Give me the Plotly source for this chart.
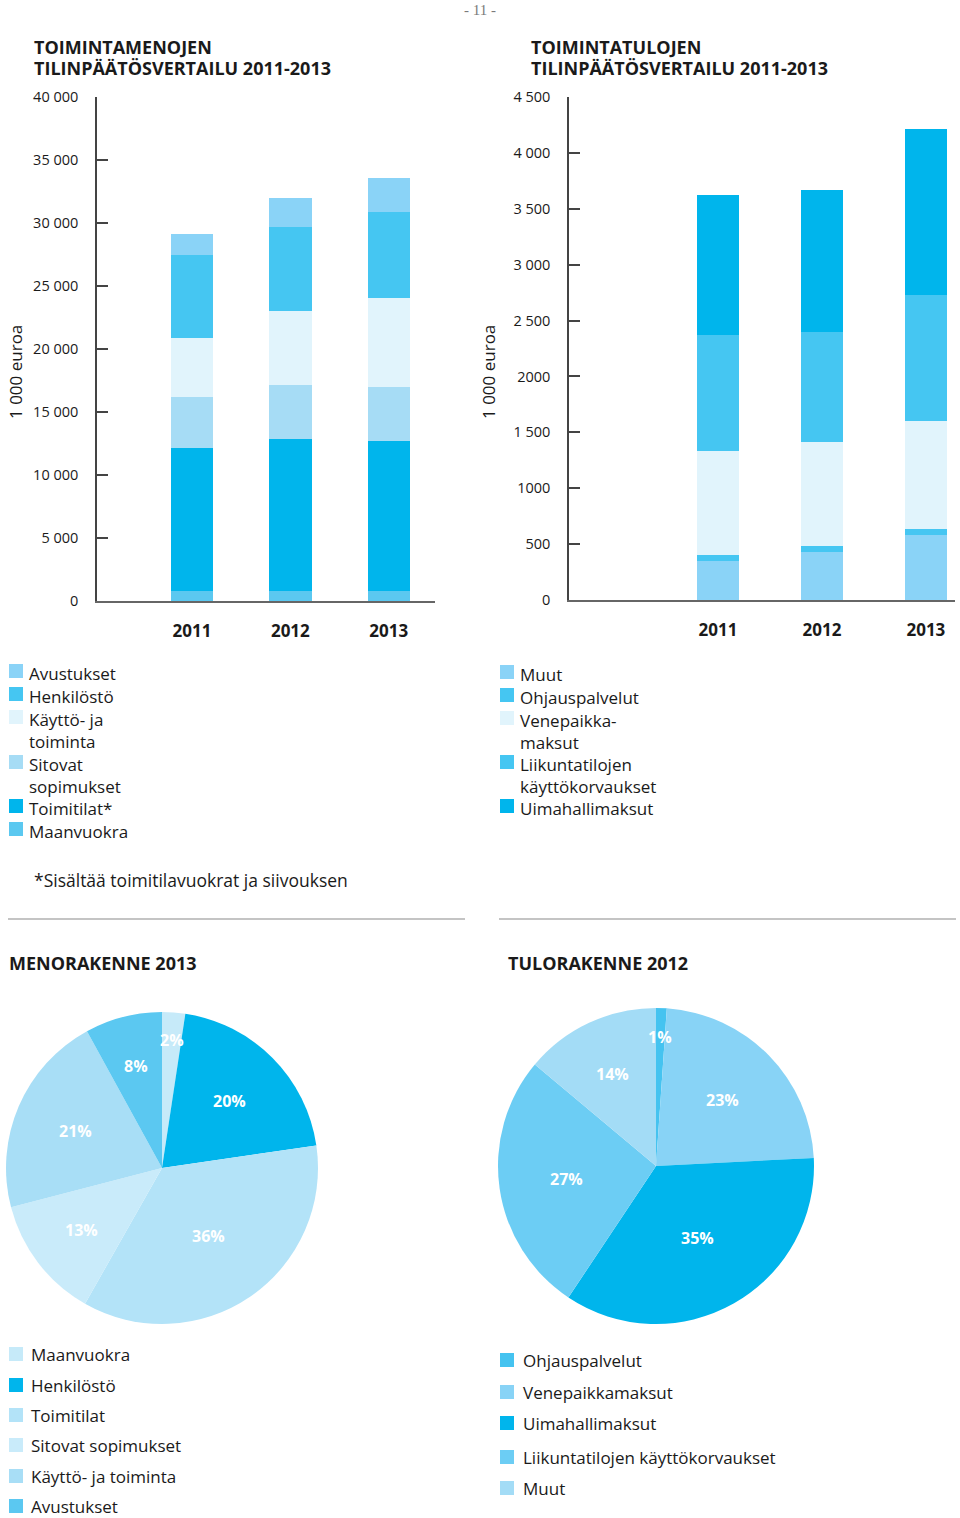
import math
import plotly.graph_objects as go

W, H = 960, 1518

# ---------------- DATA ----------------
years = ["2011", "2012", "2013"]

# Toimintamenot (1 000 euroa)
avustukset = [1646, 2350, 2679]
henkilosto = [6629, 6658, 6810]
kaytto = [4649, 5869, 7070]
sitovat = [4042, 4281, 4271]
toimitilat = [11388, 12040, 11917]
maanvuokra = [761, 797, 802]

# Toimintatulot (1 000 euroa)
muut = [352, 429, 586]
ohjaus = [55, 50, 46]
venepaikka = [925, 939, 973]
liikunta = [1039, 977, 1126]
uimahalli = [1248, 1276, 1481]

left_tickvals = [0, 5000, 10000, 15000, 20000, 25000, 30000, 35000, 40000]
left_ticktext = ["0", "5 000", "10 000", "15 000", "20 000", "25 000", "30 000", "35 000", "40 000"]
right_tickvals = [0, 500, 1000, 1500, 2000, 2500, 3000, 3500, 4000, 4500]
right_ticktext = ["0", "500", "1000", "1 500", "2000", "2 500", "3 000", "3 500", "4 000", "4 500"]

# ---------------- STYLE ----------------
FONT = "Open Sans"
TXT = "#1a1a1a"
C_DARK = "#00b5ec"
C_MED = "#45c6f2"
C_MED2 = "#5bc8f0"
C_LIGHT = "#8ad3f7"
C_PALE = "#a6dcf5"
C_VPALE = "#e1f4fc"


def X(px):
    return px / W


def Y(py):
    return 1 - py / H


def fmt(v):
    return f"{v:,}".replace(",", " ")


fig = go.Figure()

# ---------------- BAR CHARTS ----------------
left_series = [  # bottom to top
    ("Maanvuokra", maanvuokra, C_MED2),
    ("Toimitilat*", toimitilat, C_DARK),
    ("Sitovat sopimukset", sitovat, C_PALE),
    ("Käyttö- ja toiminta", kaytto, C_VPALE),
    ("Henkilöstö", henkilosto, C_MED),
    ("Avustukset", avustukset, C_LIGHT),
]
for name, vals, col in left_series:
    fig.add_trace(go.Bar(x=years, y=vals, name=name, marker=dict(color=col, line=dict(width=0)),
                         width=0.43, xaxis="x", yaxis="y", showlegend=False, hoverinfo="skip"))

right_series = [
    ("Muut", muut, C_LIGHT),
    ("Ohjauspalvelut", ohjaus, C_MED),
    ("Venepaikkamaksut", venepaikka, C_VPALE),
    ("Liikuntatilojen käyttökorvaukset", liikunta, C_MED),
    ("Uimahallimaksut", uimahalli, C_DARK),
]
for name, vals, col in right_series:
    fig.add_trace(go.Bar(x=years, y=vals, name=name, marker=dict(color=col, line=dict(width=0)),
                         width=0.41, xaxis="x2", yaxis="y2", showlegend=False, hoverinfo="skip"))

# ---------------- PIES ----------------
pie_left_labels = ["Maanvuokra", "Henkilöstö", "Toimitilat", "Sitovat sopimukset", "Käyttö- ja toiminta", "Avustukset"]
pie_left_values = [maanvuokra[2], henkilosto[2], toimitilat[2], sitovat[2], kaytto[2], avustukset[2]]
pie_left_colors = ["#c6eaf9", "#00b5ec", "#b3e3f8", "#c9ebfa", "#a8def6", "#5bc8f1"]

pie_right_labels = ["Ohjauspalvelut", "Venepaikkamaksut", "Uimahallimaksut", "Liikuntatilojen käyttökorvaukset", "Muut"]
pie_right_values = [ohjaus[2], venepaikka[2], uimahalli[2], liikunta[2], muut[2]]
pie_right_colors = ["#45c3f0", "#88d3f6", "#00b5ec", "#6ccdf4", "#a3dcf6"]

# pie boxes in pixels: (x0, x1, y0_top, y1_bottom)
PIE_L = (6, 318, 1012, 1324)
PIE_R = (498, 814, 1008, 1324)

ann = []
shapes = []


def pie_trace(labels, values, colors, box):
    x0, x1, yt, yb = box
    return go.Pie(labels=labels, values=values, sort=False, direction="clockwise",
                  rotation=0, marker=dict(colors=colors, line=dict(width=0)),
                  textinfo="none", domain=dict(x=[X(x0), X(x1)], y=[Y(yb), Y(yt)]),
                  showlegend=False, hoverinfo="skip")


def pie_labels(values, box):
    # percentage labels placed at each slice's mid angle (computed from the data)
    x0, x1, yt, yb = box
    cx, cy = (x0 + x1) / 2, (yt + yb) / 2
    r = min(x1 - x0, yb - yt) / 2
    tot = sum(values)
    cum = 0
    for v in values:
        frac = v / tot
        mid = (cum + frac / 2) * 2 * math.pi
        cum += frac
        rf = 0.82 if frac < 0.03 else 0.72 - 0.55 * frac
        px = cx + rf * r * math.sin(mid)
        py = cy - rf * r * math.cos(mid)
        ann.append(dict(x=X(px), y=Y(py), xref="paper", yref="paper", showarrow=False,
                        text=f"<b>{round(frac * 100)}%</b>", xanchor="center", yanchor="middle",
                        font=dict(family=FONT, size=16, color="white")))


fig.add_trace(pie_trace(pie_left_labels, pie_left_values, pie_left_colors, PIE_L))
fig.add_trace(pie_trace(pie_right_labels, pie_right_values, pie_right_colors, PIE_R))
pie_labels(pie_left_values, PIE_L)
pie_labels(pie_right_values, PIE_R)

# ---------------- AXES ----------------
yax_common = dict(showgrid=False, zeroline=False, showline=True, linecolor="#444", linewidth=1.5,
                  ticks="inside", ticklen=11, tickcolor="#444", tickwidth=1.5,
                  tickfont=dict(family=FONT, size=14.5, color=TXT), ticklabelstandoff=14,
                  automargin=False, fixedrange=True)
xax_common = dict(type="category", showgrid=False, zeroline=False, showline=True, linecolor="#666",
                  linewidth=2, ticks="", tickvals=years, ticktext=[f"<b>{y}</b>" for y in years],
                  tickfont=dict(family=FONT, size=17, color=TXT), ticklabelstandoff=14,
                  automargin=False, fixedrange=True)

fig.update_layout(
    width=W, height=H, margin=dict(l=0, r=0, t=0, b=0),
    paper_bgcolor="white", plot_bgcolor="rgba(0,0,0,0)",
    barmode="stack",
    font=dict(family=FONT, color=TXT),
    xaxis=dict(domain=[X(97), X(435)], anchor="y", range=[-0.965, 2.47], **xax_common),
    yaxis=dict(domain=[Y(601), Y(97)], anchor="x", range=[0, 40000],
               tickvals=left_tickvals, ticktext=left_ticktext, **yax_common),
    xaxis2=dict(domain=[X(569), X(955)], anchor="y2", range=[-1.433, 2.28], **xax_common),
    yaxis2=dict(domain=[Y(600), Y(97)], anchor="x2", range=[0, 4500],
                tickvals=right_tickvals, ticktext=right_ticktext, **yax_common),
)


def text(x, y, s, size=17, bold=False, xanchor="left", yanchor="middle", color=TXT, family=FONT,
         xref="paper", angle=0):
    if xref == "paper":
        xx = X(x - 2) if xanchor == "left" else X(x)
    else:
        xx = x
    ann.append(dict(x=xx, y=Y(y), xref=xref, yref="paper",
                    text=f"<b>{s}</b>" if bold else s, showarrow=False, xanchor=xanchor,
                    yanchor=yanchor, textangle=angle, align="left",
                    font=dict(family=family, size=size, color=color)))


# page number
text(480, 10, "- 11 -", size=15, xanchor="center", color="#7a7a7a", family="Liberation Serif")

# titles
text(34, 47, "TOIMINTAMENOJEN", size=18, bold=True)
text(34, 68, "TILINPÄÄTÖSVERTAILU 2011-2013", size=18, bold=True)
text(531, 47, "TOIMINTATULOJEN", size=18, bold=True)
text(531, 68, "TILINPÄÄTÖSVERTAILU 2011-2013", size=18, bold=True)

# axis titles
text(15, 372, "1 000 euroa", size=17, xanchor="center", angle=-90)
text(488, 372, "1 000 euroa", size=17, xanchor="center", angle=-90)

# ---------------- TABLES ----------------
left_rows = [
    ("Avustukset", avustukset, C_LIGHT, 671),
    ("Henkilöstö", henkilosto, C_MED, 694),
    ("Käyttö- ja<br>toiminta", kaytto, C_VPALE, 717),
    ("Sitovat<br>sopimukset", sitovat, C_PALE, 762),
    ("Toimitilat*", toimitilat, C_DARK, 806),
    ("Maanvuokra", maanvuokra, C_MED2, 829),
]
for label, vals, col, yy in left_rows:
    shapes.append(dict(type="rect", xref="paper", yref="paper", x0=X(9), x1=X(23), y0=Y(yy + 7), y1=Y(yy - 7),
                       fillcolor=col, line=dict(width=0)))
    text(29, yy - 11, label, yanchor="top")
    for yr, v in zip(years, vals):
        text(yr, yy, fmt(v), xanchor="center", xref="x")

right_rows = [
    ("Muut", muut, C_LIGHT, 672),
    ("Ohjauspalvelut", ohjaus, C_MED, 695),
    ("Venepaikka-<br>maksut", venepaikka, C_VPALE, 718),
    ("Liikuntatilojen<br>käyttökorvaukset", liikunta, C_MED, 762),
    ("Uimahallimaksut", uimahalli, C_DARK, 806),
]
for label, vals, col, yy in right_rows:
    shapes.append(dict(type="rect", xref="paper", yref="paper", x0=X(500), x1=X(514), y0=Y(yy + 7), y1=Y(yy - 7),
                       fillcolor=col, line=dict(width=0)))
    text(520, yy - 11, label, yanchor="top")
    for yr, v in zip(years, vals):
        text(yr, yy, fmt(v), xanchor="center", xref="x2")

text(34, 880, "*Sisältää toimitilavuokrat ja siivouksen", size=17.5)

# separators
shapes.append(dict(type="line", xref="paper", yref="paper", x0=X(8), x1=X(465), y0=Y(919), y1=Y(919),
                   line=dict(color="#b0b0b0", width=1.5)))
shapes.append(dict(type="line", xref="paper", yref="paper", x0=X(499), x1=X(956), y0=Y(919), y1=Y(919),
                   line=dict(color="#b0b0b0", width=1.5)))

text(9, 963, "MENORAKENNE 2013", size=18, bold=True)
text(508, 963, "TULORAKENNE 2012", size=18, bold=True)

# ---------------- PIE LEGENDS ----------------
left_leg_y = [1354, 1385, 1415, 1445, 1476, 1506]
for lab, col, yy in zip(pie_left_labels, pie_left_colors, left_leg_y):
    shapes.append(dict(type="rect", xref="paper", yref="paper", x0=X(9), x1=X(23), y0=Y(yy + 7), y1=Y(yy - 7),
                       fillcolor=col, line=dict(width=0)))
    text(31, yy, lab)

right_leg_y = [1360, 1392, 1423, 1457, 1488]
for lab, col, yy in zip(pie_right_labels, pie_right_colors, right_leg_y):
    shapes.append(dict(type="rect", xref="paper", yref="paper", x0=X(500), x1=X(514), y0=Y(yy + 7), y1=Y(yy - 7),
                       fillcolor=col, line=dict(width=0)))
    text(523, yy, lab)

fig.update_layout(annotations=ann, shapes=shapes)

fig.write_html("out.html", config={"displayModeBar": False},
               post_script="document.body.style.margin='0';document.body.style.overflow='hidden';")
